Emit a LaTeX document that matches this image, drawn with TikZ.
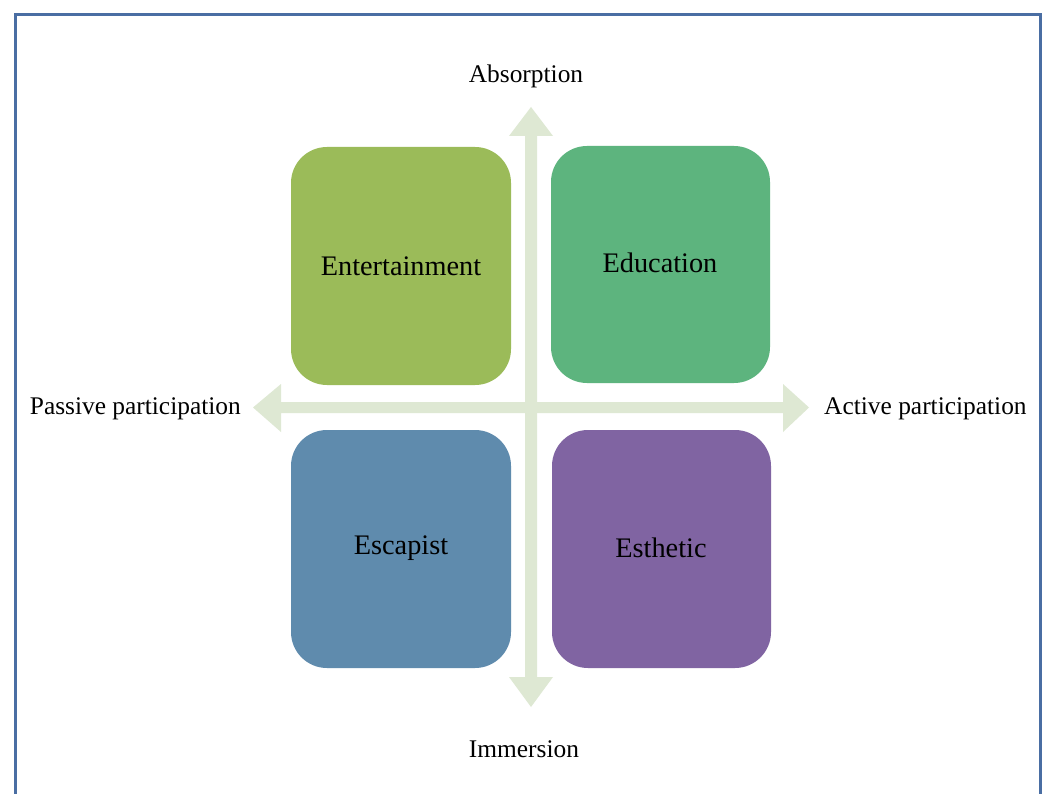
\documentclass[tikz,border=0pt]{standalone}
\usepackage{fontspec}
\setmainfont{Liberation Serif}
\definecolor{frameblue}{RGB}{74,110,163}
\definecolor{axisgreen}{RGB}{222,232,211}
\definecolor{cEnt}{RGB}{155,187,89}
\definecolor{cEdu}{RGB}{93,180,126}
\definecolor{cEsc}{RGB}{95,139,173}
\definecolor{cEst}{RGB}{128,100,162}
\tikzset{
  quad/.style={draw=none, font=\fontsize{28.3}{32}\selectfont, text=black},
  axislabel/.style={font=\fontsize{25.4}{29}\selectfont, text=black, inner sep=0pt},
}
\begin{document}
\begin{tikzpicture}[x=1pt,y=-1pt]
\useasboundingbox (0,0) rectangle (1044,794);
\clip (0,0) rectangle (1044,794);
\fill[white] (0,0) rectangle (1044,794);
% frame
\draw[frameblue, line width=3pt] (15,15) rectangle (1040.5,820);
% axes
\fill[axisgreen] (525,136) -- (509,136) -- (531,107) -- (553,136) -- (537,136) -- (537,677) -- (553,677) -- (531,707) -- (509,677) -- (525,677) -- cycle;
\fill[axisgreen] (281,402) -- (281,384) -- (253,407.5) -- (281,432) -- (281,413) -- (783,413) -- (783,432) -- (809,407.5) -- (783,384) -- (783,402) -- cycle;
% quadrants
\fill[cEnt, rounded corners=36pt] (291,147) rectangle (511,385);
\node[quad] (ent) at (401,266) {Entertainment};
\fill[cEdu, rounded corners=36pt] (551,146) rectangle (770,383);
\node[quad] (edu) at (660,263) {Education};
\fill[cEsc, rounded corners=36pt] (291,430) rectangle (511,668);
\node[quad] (esc) at (401,548) {Escapist};
\fill[cEst, rounded corners=36pt] (552,430) rectangle (771,668);
\node[quad] (est) at (661,548) {Esthetic};
% axis labels
\node[axislabel] (abs) at (526,76) {Absorption};
\node[axislabel] (imm) at (524,749) {Immersion};
\node[axislabel, anchor=east] (pas) at (241,409) {Passive participation};
\node[axislabel, anchor=west] (act) at (824,409) {Active participation};
\end{tikzpicture}
\end{document}
